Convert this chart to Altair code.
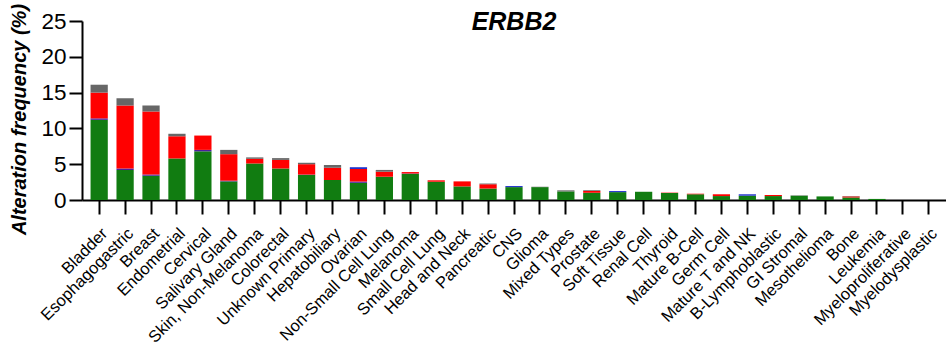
import altair as alt
import pandas as pd

# Cancer types, ordered by overall ERBB2 alteration frequency
categories = [
    "Bladder", "Esophagogastric", "Breast", "Endometrial", "Cervical",
    "Salivary Gland", "Skin, Non-Melanoma", "Colorectal", "Unknown Primary",
    "Hepatobiliary", "Ovarian", "Non-Small Cell Lung", "Melanoma",
    "Small Cell Lung", "Head and Neck", "Pancreatic", "CNS", "Glioma",
    "Mixed Types", "Prostate", "Soft Tissue", "Renal Cell", "Thyroid",
    "Mature B-Cell", "Germ Cell", "Mature T and NK", "B-Lymphoblastic",
    "GI Stromal", "Mesothelioma", "Bone", "Leukemia", "Myeloproliferative",
    "Myelodysplastic",
]

# Alteration frequency (%) per alteration class
mutation = [11.2, 4.2, 3.4, 5.8, 6.8, 2.6, 5.1, 4.4, 3.5, 2.8, 2.4, 3.25, 3.65,
            2.55, 1.9, 1.6, 1.8, 1.8, 1.2, 1.0, 1.1, 1.15, 0.98, 0.8, 0.55,
            0.6, 0.55, 0.6, 0.5, 0.35, 0.15, 0.0, 0.0]
structural_variant = [0.2, 0.2, 0.15, 0.0, 0.2, 0.1, 0.0, 0.0, 0.05, 0.0, 0.18,
                      0.0, 0.05, 0.0, 0.0, 0.0, 0.0, 0.0, 0.0, 0.0, 0.0, 0.0,
                      0.0, 0.0, 0.0, 0.0, 0.0, 0.0, 0.0, 0.0, 0.0, 0.0, 0.0]
amplification = [3.6, 8.8, 8.8, 3.1, 2.0, 3.7, 0.65, 1.2, 1.45, 1.7, 1.75, 0.7,
                 0.2, 0.2, 0.7, 0.6, 0.0, 0.0, 0.0, 0.25, 0.0, 0.0, 0.05, 0.08,
                 0.25, 0.0, 0.15, 0.0, 0.0, 0.15, 0.0, 0.0, 0.0]
deep_deletion = [0.0, 0.0, 0.0, 0.0, 0.0, 0.0, 0.0, 0.0, 0.0, 0.0, 0.25, 0.0,
                 0.0, 0.0, 0.0, 0.0, 0.15, 0.0, 0.0, 0.0, 0.15, 0.0, 0.0, 0.0,
                 0.0, 0.2, 0.0, 0.0, 0.0, 0.0, 0.0, 0.0, 0.0]
multiple = [1.1, 1.0, 0.85, 0.35, 0.0, 0.6, 0.2, 0.25, 0.2, 0.4, 0.0, 0.25, 0.0,
            0.0, 0.0, 0.1, 0.0, 0.05, 0.15, 0.1, 0.0, 0.0, 0.0, 0.0, 0.0, 0.0,
            0.0, 0.05, 0.0, 0.05, 0.0, 0.0, 0.0]

series_names = ["Mutation", "Structural Variant", "Amplification",
                "Deep Deletion", "Multiple Alterations"]
series_values = [mutation, structural_variant, amplification, deep_deletion, multiple]
series_colors = ["#117c11", "#4b1f9e", "#ff0000", "#2233cc", "#676767"]

gene = "ERBB2"

rows = []
for rank, (name, values) in enumerate(zip(series_names, series_values)):
    for cat, v in zip(categories, values):
        rows.append({"cancer": cat, "type": name, "rank": rank, "freq": v})
df = pd.DataFrame(rows)

FONT = "Liberation Sans"
PLOT_W = 864
PLOT_H = 179

bars = (
    alt.Chart(df)
    .mark_bar()
    .encode(
        x=alt.X(
            "cancer:N",
            sort=categories,
            scale=alt.Scale(paddingInner=0.335, paddingOuter=0.33),
            axis=alt.Axis(
                title=None,
                labelAngle=-45,
                labelFontSize=16.5,
                labelFont=FONT,
                labelColor="black",
                labelPadding=11,
                tickSize=14,
                tickWidth=2,
                tickColor="black",
                domainWidth=2,
                domainColor="black",
            ),
        ),
        y=alt.Y(
            "freq:Q",
            stack="zero",
            scale=alt.Scale(domain=[0, 25], nice=False),
            axis=alt.Axis(
                title="Alteration frequency (%)",
                values=[0, 5, 10, 15, 20, 25],
                grid=False,
                labelFontSize=22.5,
                labelFont=FONT,
                labelColor="black",
                labelPadding=3,
                tickSize=13,
                tickWidth=2,
                tickColor="black",
                domainWidth=2,
                domainColor="black",
                titleFont=FONT,
                titleFontSize=20,
                titleFontWeight="bold",
                titleFontStyle="italic",
                titleColor="black",
                titleAngle=-90,
                titleX=-63,
                titleY=98,
                titleAlign="center",
                titleBaseline="middle",
            ),
        ),
        color=alt.Color(
            "type:N",
            scale=alt.Scale(domain=series_names, range=series_colors),
            legend=None,
        ),
        order=alt.Order("rank:Q", sort="ascending"),
    )
)

# Gene name drawn as a heading inside the top of the plot area
heading = (
    alt.Chart(pd.DataFrame({"gene": [gene]}))
    .mark_text(
        font=FONT,
        fontSize=25,
        fontWeight="bold",
        fontStyle="italic",
        color="black",
        align="center",
        baseline="middle",
    )
    .encode(text="gene:N", x=alt.value(PLOT_W / 2), y=alt.value(1))
)

chart = (
    alt.layer(bars, heading)
    .properties(
        width=PLOT_W,
        height=PLOT_H,
        autosize=alt.AutoSizeParams(type="none"),
        padding={"left": 82, "top": 21, "right": 0, "bottom": 149},
    )
    .configure_view(stroke=None)
)

chart.save("out.html", embed_options={"renderer": "svg", "actions": False})
